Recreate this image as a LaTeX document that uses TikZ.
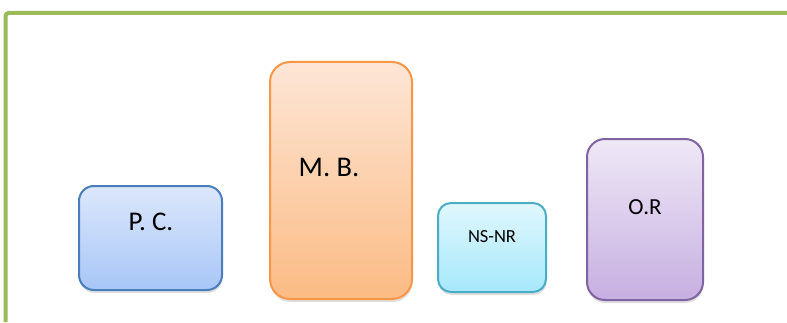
\documentclass[tikz,border=0pt]{standalone}
\usepackage{fontspec}
\setmainfont{Carlito}
\usetikzlibrary{shadows}
\definecolor{framegreen}{HTML}{9BBB59}
\definecolor{pcline}{HTML}{4A7EBB}
\definecolor{pctop}{HTML}{DCE7FB}
\definecolor{pcbot}{HTML}{A7C6F7}
\definecolor{mbline}{HTML}{F79646}
\definecolor{mbtop}{HTML}{FDE6D6}
\definecolor{mbbot}{HTML}{FBBB84}
\definecolor{nsline}{HTML}{4BACC6}
\definecolor{nstop}{HTML}{E0F7FD}
\definecolor{nsbot}{HTML}{A6E8FB}
\definecolor{orline}{HTML}{8064A2}
\definecolor{ortop}{HTML}{EFE8F6}
\definecolor{orbot}{HTML}{C6AFE1}
\tikzset{
  card/.style={rectangle, line width=2pt, inner sep=0pt,
    drop shadow={opacity=0.25, shadow xshift=0.5pt, shadow yshift=-3pt}},
  cardtext/.style={font=\fontsize{#1}{#1}\selectfont, inner sep=0pt}
}
\begin{document}
\begin{tikzpicture}[x=1pt,y=1pt]
  \useasboundingbox (0,0) rectangle (787,322);
  % green frame along the top and left edges
  \draw[framegreen, line width=4pt, rounded corners=3pt] (5.5,0) -- (5.5,309) -- (790,309);

  % the four blocks
  \node[card, draw=pcline, top color=pctop, bottom color=pcbot,
        minimum width=143pt, minimum height=104pt, rounded corners=15pt] (pc) at (150.5,84) {};
  \node[card, draw=mbline, top color=mbtop, bottom color=mbbot,
        minimum width=142pt, minimum height=237pt, rounded corners=20pt] (mb) at (341,141.5) {};
  \node[card, draw=nsline, top color=nstop, bottom color=nsbot,
        minimum width=108pt, minimum height=89pt, rounded corners=13pt] (ns) at (492,74.5) {};
  \node[card, draw=orline, top color=ortop, bottom color=orbot,
        minimum width=116pt, minimum height=161pt, rounded corners=18pt] (or) at (645,102.5) {};

  % labels
  \node[cardtext=27] (pclabel) at (151,100) {P. C.};
  \node[cardtext=28.5] (mblabel) at (329,155) {M. B.};
  \node[cardtext=18.5] (nslabel) at (492,85) {NS-NR};
  \node[cardtext=23] (orlabel) at (645,115) {O.R};
\end{tikzpicture}
\end{document}
